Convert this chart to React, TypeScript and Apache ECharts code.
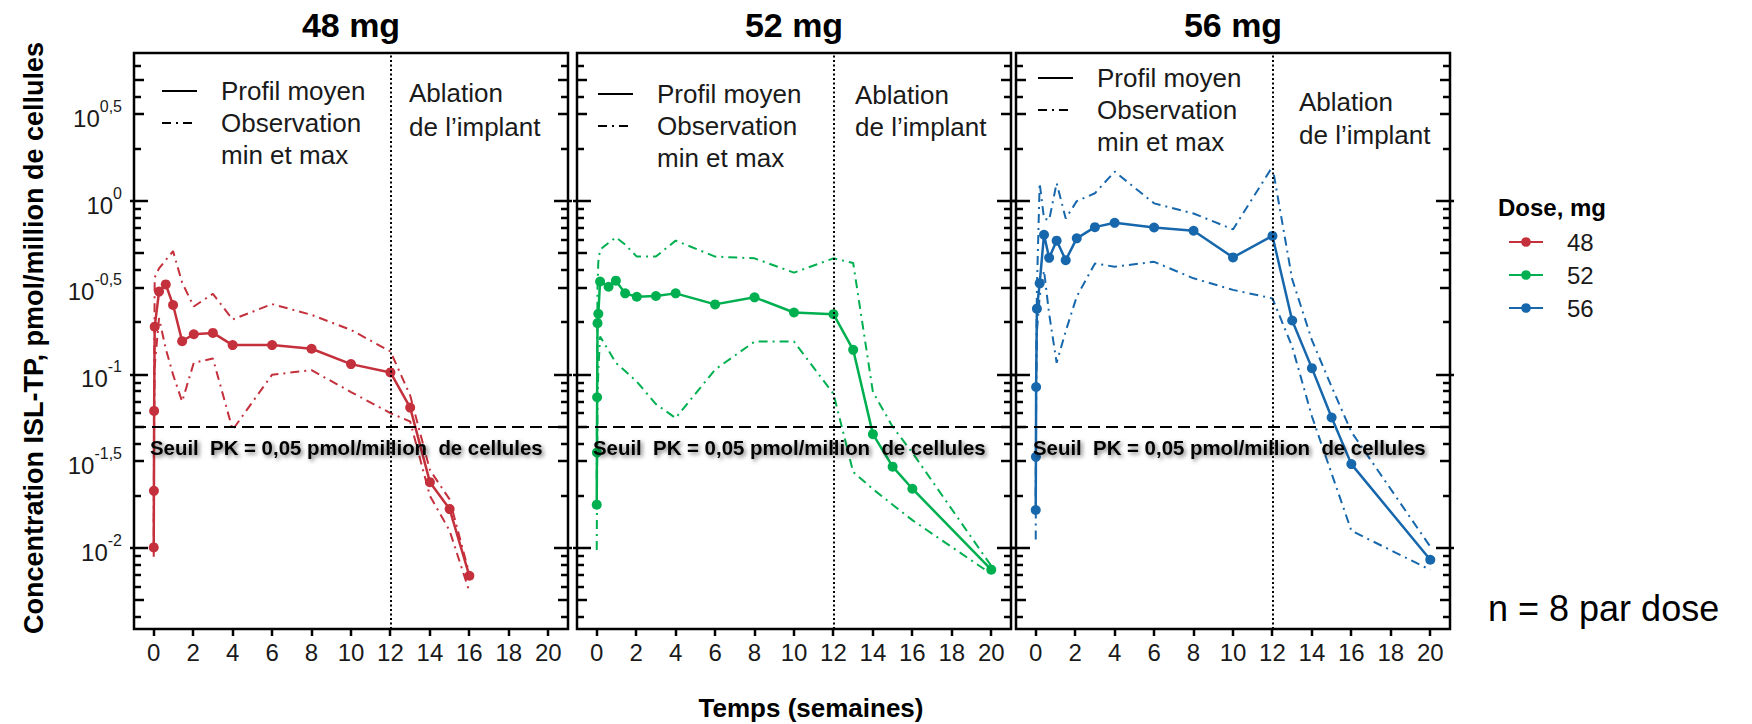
import React, { useEffect, useRef } from "react";
import * as echarts from "echarts";

// ---------- DATA ----------
const doses = ["48", "52", "56"];
const panelTitles = ["48 mg", "52 mg", "56 mg"];
const doseColors = ["#C4303B", "#00B050", "#1767AC"];

// weeks and concentrations (pmol/million cells)
const weeks48 = [0, 0.01, 0.02, 0.05, 0.27, 0.61, 0.98, 1.44, 2.03, 3, 4, 6, 8, 10, 12, 13, 14, 15, 16];
const mean48 = [0.0101, 0.0214, 0.0618, 0.189, 0.301, 0.331, 0.252, 0.156, 0.171, 0.174, 0.148, 0.148, 0.141, 0.115, 0.103, 0.0646, 0.024, 0.0168, 0.00693];
const max48 = [0.0141, 0.0282, 0.0891, 0.363, 0.41, 0.457, 0.515, 0.339, 0.247, 0.292, 0.208, 0.255, 0.221, 0.181, 0.136, 0.0759, 0.0282, 0.0191, 0.00708];
const min48 = [0.00891, 0.0178, 0.0501, 0.112, 0.212, 0.141, 0.1, 0.07, 0.117, 0.124, 0.0481, 0.1, 0.106, 0.0794, 0.06, 0.0537, 0.02, 0.0126, 0.00562];

const weeks52 = [0, 0.01, 0.02, 0.04, 0.08, 0.17, 0.6, 0.97, 1.44, 2.03, 3, 4, 6, 8, 10, 12, 13, 14, 15, 16, 20];
const mean52 = [0.0178, 0.0356, 0.0741, 0.198, 0.224, 0.344, 0.321, 0.348, 0.294, 0.281, 0.284, 0.294, 0.254, 0.279, 0.228, 0.223, 0.139, 0.0454, 0.0295, 0.022, 0.00752];
const max52 = [0.0251, 0.0501, 0.112, 0.316, 0.447, 0.525, 0.575, 0.618, 0.562, 0.479, 0.479, 0.592, 0.479, 0.468, 0.387, 0.468, 0.44, 0.0794, 0.0501, 0.0355, 0.0079];
const min52 = [0.00977, 0.0166, 0.0316, 0.0708, 0.105, 0.166, 0.138, 0.117, 0.105, 0.0912, 0.0676, 0.0562, 0.107, 0.155, 0.155, 0.0776, 0.0275, 0.0219, 0.0178, 0.0145, 0.0071];

const weeks56 = [0, 0.01, 0.02, 0.06, 0.2, 0.42, 0.68, 1.06, 1.52, 2.08, 3, 4, 6, 8, 10, 12, 13, 14, 15, 16, 20];
const mean56 = [0.0166, 0.0336, 0.0849, 0.24, 0.336, 0.64, 0.471, 0.592, 0.457, 0.61, 0.708, 0.75, 0.705, 0.675, 0.474, 0.63, 0.205, 0.109, 0.0566, 0.0305, 0.00857];
const max56 = [0.02, 0.0398, 0.1, 0.316, 1.27, 0.794, 0.778, 1.27, 0.794, 1.0, 1.11, 1.48, 0.971, 0.849, 0.687, 1.58, 0.355, 0.158, 0.0851, 0.0468, 0.0102];
const min56 = [0.0112, 0.0251, 0.0631, 0.178, 0.282, 0.398, 0.224, 0.117, 0.178, 0.282, 0.437, 0.419, 0.447, 0.359, 0.308, 0.275, 0.145, 0.0575, 0.0269, 0.0126, 0.0075];

const xTickLabels = [0, 2, 4, 6, 8, 10, 12, 14, 16, 18, 20];
const yLabelExponents = [0.5, 0, -0.5, -1, -1.5, -2];
const minorMultipliers = [2, 4, 6, 7, 8, 9];
const yRangeConc = [0.00342, 7.14];
const xRange = [-1, 21];
const thresholdConc = 0.05;
const ablationWeek = 12;
const thresholdLabel = "Seuil  PK = 0,05 pmol/million  de cellules";
const yTitle = "Concentration ISL-TP, pmol/million de cellules";
const xTitle = "Temps (semaines)";
const noteText = "n = 8 par dose";
const legendTitle = "Dose, mg";

const panels = [
  { weeks: weeks48, mean: mean48, min: min48, max: max48 },
  { weeks: weeks52, mean: mean52, min: min52, max: max52 },
  { weeks: weeks56, mean: mean56, min: min56, max: max56 },
];

// ---------- LAYOUT ----------
const GRID_LEFT = [134, 577, 1016];
const GRID_W = 434;
const GRID_TOP = 53;
const GRID_H = 576;
const FONT = "Liberation Sans, Arial, Helvetica, sans-serif";

const inPanelLegend = [
  { lineX: 162, textX: 221, y: [91, 123, 155], ablX: 409, ablY: [93, 127] },
  { lineX: 598, textX: 657, y: [94, 126, 158], ablX: 855, ablY: [95, 127] },
  { lineX: 1038, textX: 1097, y: [78, 110, 142], ablX: 1299, ablY: [102, 135] },
];
const thresholdTextX = [150, 593, 1033];

const DASHDOT = [9, 5, 2, 5];

function App() {
  const ref = useRef<HTMLDivElement>(null);

  useEffect(() => {
    if (!ref.current) return;
    const chart = echarts.init(ref.current, null, { renderer: "svg" });
    const lg = Math.log10;
    const yMin = lg(yRangeConc[0]);
    const yMax = lg(yRangeConc[1]);

    const grids: any[] = [];
    const xAxes: any[] = [];
    const yAxes: any[] = [];
    const series: any[] = [];

    for (let g = 0; g < 3; g++) {
      grids.push({
        left: GRID_LEFT[g],
        top: GRID_TOP,
        width: GRID_W,
        height: GRID_H,
        show: true,
        borderColor: "#000",
        borderWidth: 2.5,
        backgroundColor: "rgba(0,0,0,0)",
      });
      xAxes.push({
        type: "value",
        gridIndex: g,
        position: "bottom",
        min: xRange[0],
        max: xRange[1],
        axisLine: { show: false, onZero: false },
        splitLine: { show: false },
        axisTick: { show: false },
        axisLabel: {
          show: true,
          customValues: xTickLabels,
          fontSize: 24,
          fontFamily: FONT,
          color: "#1a1a1a",
          margin: 11,
        },
      });
      yAxes.push({
        type: "value",
        gridIndex: g,
        position: "left",
        min: yMin,
        max: yMax,
        axisLine: { show: false, onZero: false },
        splitLine: { show: false },
        axisTick: { show: false },
        axisLabel:
          g === 0
            ? {
                show: true,
                customValues: yLabelExponents,
                margin: 12,
                formatter: (v: number) => {
                  const e = String(Math.round(v * 10) / 10).replace(".", ",");
                  return `{b|10}{s|${e}}`;
                },
                rich: {
                  b: { fontSize: 24, fontFamily: FONT, color: "#1a1a1a", lineHeight: 32, verticalAlign: "bottom" },
                  s: { fontSize: 16, fontFamily: FONT, color: "#1a1a1a", lineHeight: 32, verticalAlign: "top" },
                },
              }
            : { show: false },
      });

      const p = panels[g];
      const color = doseColors[g];
      const toData = (vals: number[]) => p.weeks.map((t, i) => [t, lg(vals[i])]);
      ["min", "max"].forEach((key) => {
        series.push({
          type: "line",
          name: `${doses[g]} ${key}`,
          xAxisIndex: g,
          yAxisIndex: g,
          data: toData((p as any)[key]),
          symbol: "none",
          lineStyle: { color, width: 2, type: DASHDOT },
          z: 2,
          silent: true,
        });
      });
      series.push({
        type: "line",
        name: doses[g],
        xAxisIndex: g,
        yAxisIndex: g,
        data: toData(p.mean),
        symbol: "circle",
        symbolSize: 10,
        lineStyle: { color, width: 2.5 },
        itemStyle: { color },
        z: 4,
        silent: true,
        markLine: {
          silent: true,
          symbol: ["none", "none"],
          label: { show: false },
          data: [
            { yAxis: lg(thresholdConc), lineStyle: { color: "#000", width: 2, type: [12, 6] } },
            { xAxis: ablationWeek, lineStyle: { color: "#000", width: 2, type: [2, 2.5] } },
          ],
          z: 5,
        },
      });
    }

    chart.setOption({
      animation: false,
      grid: grids,
      xAxis: xAxes,
      yAxis: yAxes,
      series,
      legend: {
        data: doses,
        orient: "vertical",
        left: 1503,
        top: 225,
        itemWidth: 34,
        itemHeight: 12,
        itemGap: 9,
        selectedMode: false,
        textStyle: { fontSize: 24, fontFamily: FONT, color: "#1a1a1a", padding: [0, 0, 0, 19] },
      },
    });

    // ---- axis ticks, positioned through the axes' own scales ----
    const decades: number[] = [];
    const mediums: number[] = [];
    const minors: number[] = [];
    for (let k = -3; k <= 0; k++) {
      decades.push(k);
      mediums.push(k + 0.5);
      mediums.push(k + lg(5));
      minorMultipliers.forEach((n) => minors.push(k + lg(n)));
    }
    const inRange = (v: number) => v >= yMin + 0.01 && v <= yMax - 0.01;
    const tickSets = [
      { vals: decades.filter(inRange), len: 14, out: 4 },
      { vals: mediums.filter(inRange), len: 10, out: 1 },
      { vals: minors.filter(inRange), len: 7, out: 1 },
    ];

    const graphics: any[] = [];
    const tickLine = (x1: number, y1: number, x2: number, y2: number) => ({
      type: "line",
      silent: true,
      z: 100,
      shape: { x1, y1, x2, y2 },
      style: { stroke: "#000", lineWidth: 2.5 },
    });
    for (let g = 0; g < 3; g++) {
      const left = GRID_LEFT[g];
      const right = GRID_LEFT[g] + GRID_W;
      const bottom = GRID_TOP + GRID_H;
      tickSets.forEach((ts) => {
        ts.vals.forEach((v) => {
          const py = Math.round(chart.convertToPixel({ yAxisIndex: g }, v) as number);
          graphics.push(tickLine(left - ts.out, py, left + ts.len, py));
          graphics.push(tickLine(right - ts.len, py, right + ts.out, py));
        });
      });
      xTickLabels.forEach((v) => {
        const px = Math.round(chart.convertToPixel({ xAxisIndex: g }, v) as number);
        graphics.push(tickLine(px, bottom, px, bottom + 7));
      });

      const cx = GRID_LEFT[g] + GRID_W / 2;
      graphics.push({
        type: "text",
        x: cx,
        y: 25,
        style: { text: panelTitles[g], fontSize: 34, fontWeight: "bold", fontFamily: FONT, fill: "#000", align: "center", verticalAlign: "middle" },
      });
      const L = inPanelLegend[g];
      graphics.push({
        type: "line",
        shape: { x1: L.lineX, y1: L.y[0], x2: L.lineX + 35, y2: L.y[0] },
        style: { stroke: "#000", lineWidth: 2 },
      });
      graphics.push({
        type: "line",
        shape: { x1: L.lineX, y1: L.y[1], x2: L.lineX + 35, y2: L.y[1] },
        style: { stroke: "#000", lineWidth: 2, lineDash: DASHDOT },
      });
      ["Profil moyen", "Observation", "min et max"].forEach((t, i) => {
        graphics.push({
          type: "text",
          x: L.textX,
          y: L.y[i],
          style: { text: t, fontSize: 26, fontFamily: FONT, fill: "#1a1a1a", align: "left", verticalAlign: "middle" },
        });
      });
      ["Ablation", "de l\u2019implant"].forEach((t, i) => {
        graphics.push({
          type: "text",
          x: L.ablX,
          y: L.ablY[i],
          style: { text: t, fontSize: 26, fontFamily: FONT, fill: "#1a1a1a", align: "left", verticalAlign: "middle" },
        });
      });
      graphics.push({
        type: "text",
        x: thresholdTextX[g],
        y: 448,
        z: 10,
        style: {
          text: thresholdLabel,
          fontSize: 20.4,
          fontWeight: "bold",
          fontFamily: FONT,
          fill: "#000",
          align: "left",
          verticalAlign: "middle",
          textShadowColor: "rgba(0,0,0,0.55)",
          textShadowBlur: 4,
          textShadowOffsetX: 2,
          textShadowOffsetY: 2,
        },
      });
    }
    graphics.push({
      type: "text",
      x: 34,
      y: 338,
      rotation: Math.PI / 2,
      style: { text: yTitle, fontSize: 27, fontWeight: "bold", fontFamily: FONT, fill: "#000", align: "center", verticalAlign: "middle" },
    });
    graphics.push({
      type: "text",
      x: 811,
      y: 708,
      style: { text: xTitle, fontSize: 26, fontWeight: "bold", fontFamily: FONT, fill: "#000", align: "center", verticalAlign: "middle" },
    });
    graphics.push({
      type: "text",
      x: 1498,
      y: 207,
      style: { text: legendTitle, fontSize: 24, fontWeight: "bold", fontFamily: FONT, fill: "#000", align: "left", verticalAlign: "middle" },
    });
    graphics.push({
      type: "text",
      x: 1488,
      y: 608,
      style: { text: noteText, fontSize: 36, fontFamily: FONT, fill: "#000", align: "left", verticalAlign: "middle" },
    });

    chart.setOption({ graphic: graphics });

    return () => chart.dispose();
  }, []);

  return (
    <div
      ref={ref}
      style={{ position: "absolute", left: 0, top: 0, width: 1752, height: 724, background: "#fff" }}
    />
  );
}

export default App;
